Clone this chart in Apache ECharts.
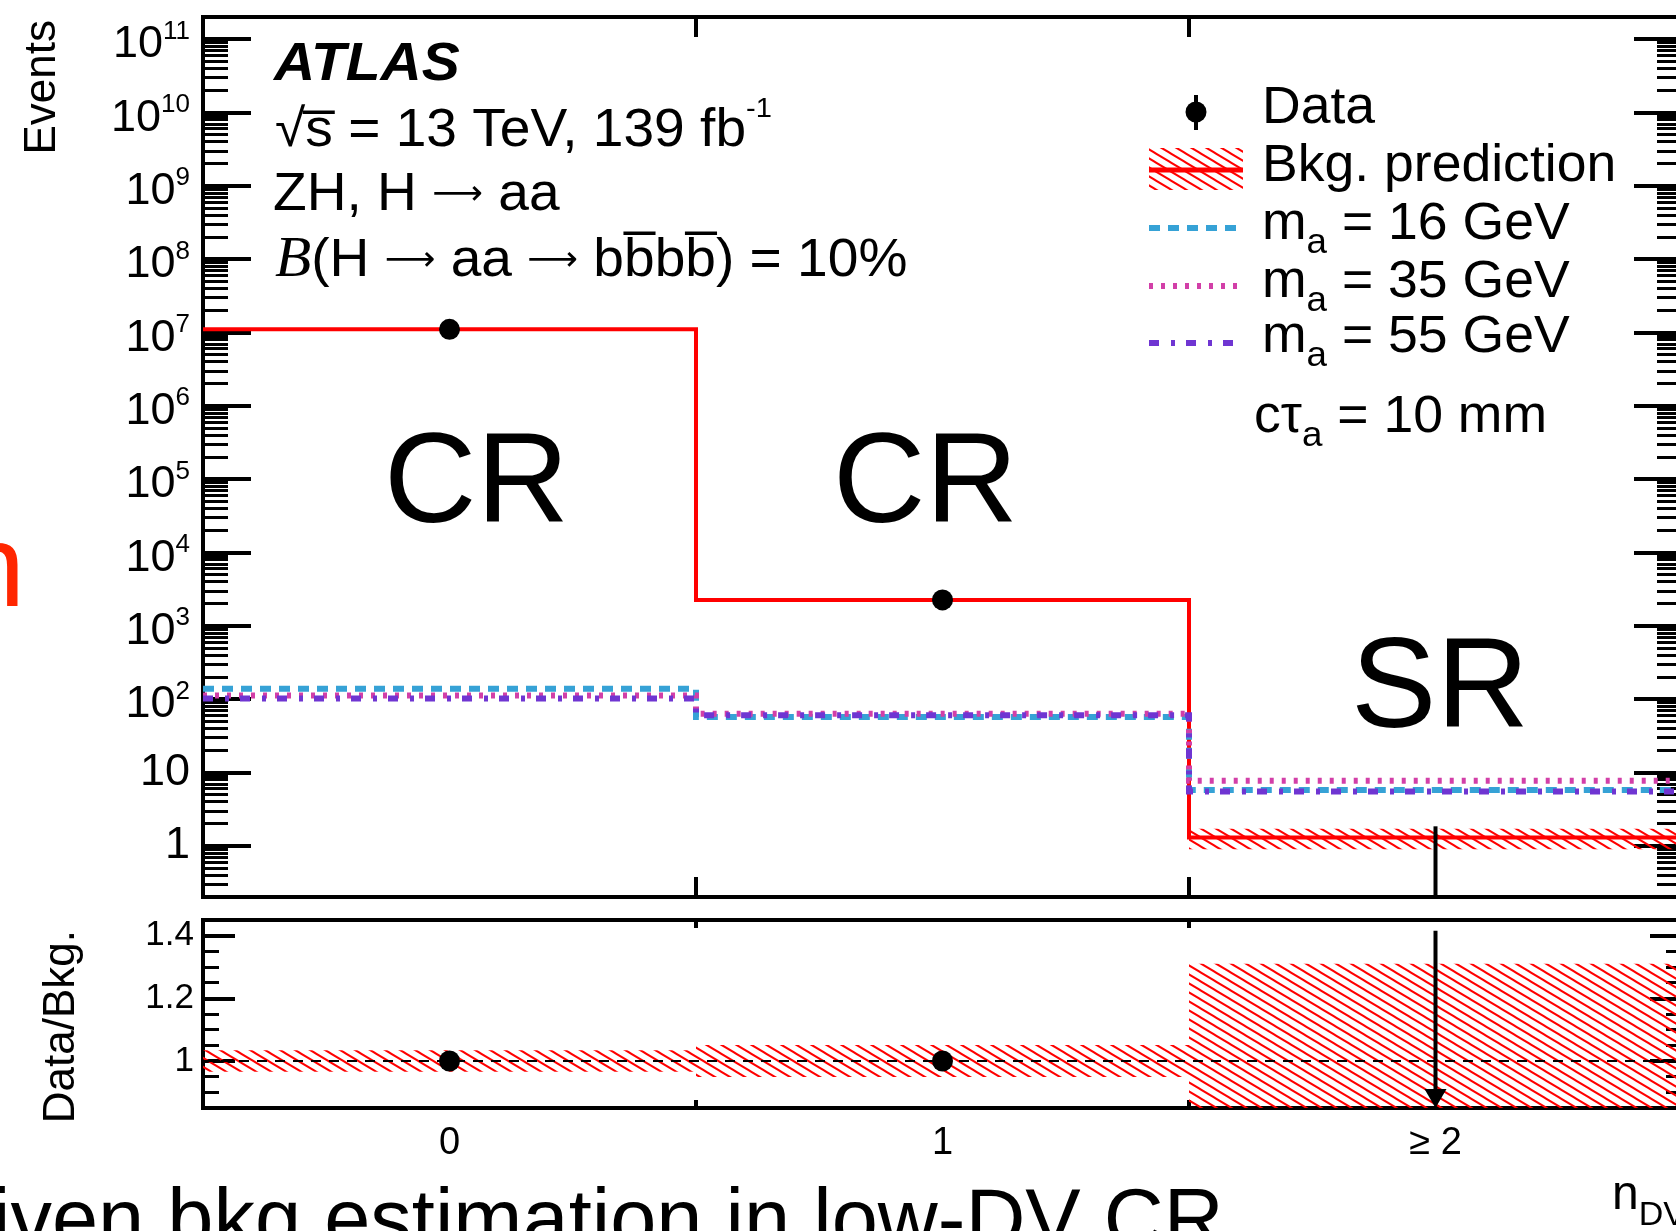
<!DOCTYPE html>
<html>
<head>
<meta charset="utf-8">
<title>n_DV control / signal regions</title>
<script src="https://cdn.jsdelivr.net/npm/echarts@6/dist/echarts.min.js"></script>
<style>
  html, body { margin: 0; padding: 0; background: #fff; overflow: hidden; }
  #chart { width: 1690px; height: 1231px; }
</style>
</head>
<body>
<div id="chart"></div>
<script>
// n_DV bins
const binCenters = [0, 1, 2];
const binEdges = [-0.5, 0.5, 1.5, 2.5];
const binLabels = ['0', '1', '≥ 2'];

// observed data (SR blinded -> 0, Poisson upper error 1.84)
const dataCounts = [1.1e7, 2.25e3, 0];
const dataErrUp = [3317, 47, 1.84];
const dataErrDown = [3317, 47, 0];

// background prediction and its relative uncertainty
const bkgPred = [1.1e7, 2.25e3, 1.3];
const bkgRelUnc = [0.034, 0.051, 0.31];

// signal, c tau = 10 mm
const sigM16 = [138, 57, 5.75];
const sigM35 = [112, 63, 7.7];
const sigM55 = [102, 60, 5.5];

// axis ticks
const yDecades = [0, 1, 2, 3, 4, 5, 6, 7, 8, 9, 10, 11];
const ratioMajorTicks = [1.0, 1.2, 1.4];
const ratioMinorTicks = [0.9, 0.95, 1.05, 1.1, 1.15, 1.25, 1.3, 1.35];

const FONT = "'Liberation Sans', Arial, Helvetica, sans-serif";
const ARROW_FONT = "'DejaVu Sans', sans-serif";
const RED = '#ff0000';
const BLUE = '#36a2d6';
const MAGENTA = '#d23fa8';
const PURPLE = '#6f35d2';

const lg = v => Math.log10(v);
const yLogMin = lg(0.2);
const yLogMax = lg(2e11);
const rMin = 0.85;
const rMax = 1.45;

const yMinorTicks = [];
for (let n = -1; n <= 11; n++) {
  for (let k = 2; k <= 9; k++) {
    const v = lg(k) + n;
    if (v > yLogMin + 1e-9 && v < yLogMax - 1e-9) yMinorTicks.push(v);
  }
}

// red hatch (ROOT style "\\\\")
function makeHatch() {
  const w = 15, h = 9;
  const c = document.createElement('canvas');
  c.width = w; c.height = h;
  const ctx = c.getContext('2d');
  ctx.strokeStyle = RED;
  ctx.lineWidth = 2;
  [-w, 0, w].forEach(dx => {
    ctx.beginPath();
    ctx.moveTo(dx - w, -h);
    ctx.lineTo(dx + 2 * w, 2 * h);
    ctx.stroke();
  });
  return c;
}
const hatchFill = { image: makeHatch(), repeat: 'repeat' };

function stepData(vals) {
  return binEdges.map((e, i) => [e, lg(vals[Math.min(i, vals.length - 1)])]);
}

function bandItem(params, api) {
  const p0 = api.coord([api.value(0), api.value(3)]);
  const p1 = api.coord([api.value(1), api.value(2)]);
  return {
    type: 'rect',
    shape: { x: p0[0], y: p0[1], width: p1[0] - p0[0], height: p1[1] - p0[1] },
    style: { fill: hatchFill, stroke: null }
  };
}

function errItem(params, api) {
  const lo = api.coord([api.value(0), api.value(1)]);
  const hi = api.coord([api.value(0), api.value(2)]);
  return {
    type: 'line',
    shape: { x1: lo[0], y1: lo[1], x2: hi[0], y2: hi[1] },
    style: { stroke: '#000', lineWidth: 4 }
  };
}

function arrowItem(params, api) {
  const bot = api.coord([api.value(0), api.value(1)]);
  const top = api.coord([api.value(0), api.value(2)]);
  return {
    type: 'group',
    children: [
      { type: 'line', shape: { x1: top[0], y1: top[1], x2: bot[0], y2: bot[1] - 16 },
        style: { stroke: '#000', lineWidth: 4 } },
      { type: 'polygon', shape: { points: [[bot[0] - 11, bot[1] - 19], [bot[0] + 11, bot[1] - 19], [bot[0], bot[1]]] },
        style: { fill: '#000' } }
    ]
  };
}

// upper panel
const bkgBand = bkgPred.map((b, i) => [binEdges[i], binEdges[i + 1],
  Math.max(yLogMin, lg(b * (1 - bkgRelUnc[i]))), lg(b * (1 + bkgRelUnc[i]))]);
const dataPts = [];
const dataErr = [];
dataCounts.forEach((d, i) => {
  if (d > 0) dataPts.push([binCenters[i], lg(d)]);
  const lo = d - dataErrDown[i] > 0 ? lg(d - dataErrDown[i]) : yLogMin;
  dataErr.push([binCenters[i], lo, lg(d + dataErrUp[i])]);
});

// ratio panel
const ratioBand = bkgRelUnc.map((u, i) => [binEdges[i], binEdges[i + 1],
  Math.max(rMin, 1 - u), Math.min(rMax, 1 + u)]);
const ratioPts = [];
const ratioErr = [];
const ratioArrows = [];
dataCounts.forEach((d, i) => {
  const r = d / bkgPred[i];
  const up = (d + dataErrUp[i]) / bkgPred[i];
  const dn = (d - dataErrDown[i]) / bkgPred[i];
  if (r >= rMin) {
    ratioPts.push([binCenters[i], r]);
    ratioErr.push([binCenters[i], dn, up]);
  } else {
    ratioArrows.push([binCenters[i], rMin, Math.min(up, rMax)]);
  }
});

const tickStyle = w => ({ color: '#000', width: w });
const noLine = { show: false, onZero: false };

function yAxisPair(grid, min, max, majors, minors, majLen, minLen, label) {
  const out = [];
  ['left', 'right'].forEach(pos => {
    out.push({
      type: 'value', gridIndex: grid, position: pos, min, max,
      axisLine: noLine, splitLine: { show: false },
      axisTick: { show: true, inside: true, length: majLen, customValues: majors, lineStyle: tickStyle(4) },
      axisLabel: pos === 'left' && label ? label : { show: false }
    });
    out.push({
      type: 'value', gridIndex: grid, position: pos, min, max,
      axisLine: noLine, splitLine: { show: false },
      axisTick: { show: true, inside: true, length: minLen, customValues: minors, lineStyle: tickStyle(3) },
      axisLabel: { show: false }
    });
  });
  return out;
}

function xAxisPair(grid, len, label) {
  return ['bottom', 'top'].map(pos => ({
    type: 'value', gridIndex: grid, position: pos, min: binEdges[0], max: binEdges[binEdges.length - 1],
    axisLine: noLine, splitLine: { show: false },
    axisTick: { show: true, inside: true, length: len, customValues: binEdges.slice(1, -1), lineStyle: tickStyle(4) },
    axisLabel: pos === 'bottom' && label ? label : { show: false }
  }));
}

const yLabelUpper = {
  show: true, customValues: yDecades, margin: 13, color: '#000', fontSize: 45, fontFamily: FONT,
  formatter: v => v === 0 ? '{m|1}' : v === 1 ? '{m|10}' : '{p|10}{s|' + v + '}',
  rich: {
    m: { fontSize: 45, lineHeight: 45, fontFamily: FONT, color: '#000' },
    p: { fontSize: 45, lineHeight: 45, fontFamily: FONT, color: '#000', padding: [12, 0, 0, 0] },
    s: { fontSize: 26, height: 30, verticalAlign: 'top', fontFamily: FONT, color: '#000' }
  }
};
const yLabelRatio = {
  show: true, customValues: ratioMajorTicks, margin: 9, color: '#000', fontSize: 35, fontFamily: FONT,
  formatter: v => Math.abs(v - 1) < 1e-9 ? '1' : v.toFixed(1)
};
const xLabelRatio = {
  show: true, customValues: binCenters, margin: 17, color: '#000', fontSize: 38, fontFamily: FONT,
  formatter: v => binLabels[binCenters.indexOf(v)]
};

const richLegend = {
  t: { fontSize: 51, lineHeight: 51, fontFamily: FONT, fill: '#000' },
  s: { fontSize: 35, height: 14, verticalAlign: 'bottom', fontFamily: FONT, fill: '#000' }
};
const richInfo = {
  t: { fontSize: 53, lineHeight: 53, fontFamily: FONT, fill: '#000' },
  a: { fontSize: 34, lineHeight: 53, fontFamily: ARROW_FONT, fill: '#000' },
  s: { fontSize: 28, height: 9, verticalAlign: 'top', fontFamily: FONT, fill: '#000' },
  B: { fontSize: 57, lineHeight: 53, fontFamily: "'Liberation Serif', 'Times New Roman', serif", fontStyle: 'italic', fill: '#000' }
};

function txt(x, y, text, size, extra, sx) {
  return {
    type: 'text', x, y, silent: true, scaleX: sx || 1,
    style: Object.assign({ text, fill: '#000', fontSize: size, fontFamily: FONT, align: 'left', verticalAlign: 'middle' }, extra || {})
  };
}
function seg(x1, y1, x2, y2, stroke, w, dash) {
  return { type: 'line', silent: true, shape: { x1, y1, x2, y2 },
    style: { stroke, lineWidth: w, lineDash: dash || null } };
}

const ARR = '{a|⟶}';
const graphics = [
  // axis titles (rotated)
  Object.assign(txt(43, 20, 'Events', 44, { align: 'right' }), { rotation: Math.PI / 2 }),
  Object.assign(txt(62, 930, 'Data/Bkg.', 44, { align: 'right' }), { rotation: Math.PI / 2 }),
  // page fragments around the figure
  txt(-40, 574, 'n', 117, { fill: '#ff2600' }),
  txt(-8, 1224, 'iven bkg estimation in low-DV CR', 83),
  txt(1612, 1196, '{t|n}{s|DV}', 48, { rich: {
    t: { fontSize: 48, lineHeight: 48, fontFamily: FONT, fill: '#000' },
    s: { fontSize: 34, height: 8, verticalAlign: 'bottom', fontFamily: FONT, fill: '#000' } } }),
  // ATLAS label block
  txt(274, 65, 'ATLAS', 54, { fontWeight: 'bold', fontStyle: 'italic' }, 1.055),
  txt(275, 131, '{t|√s\u0305 = 13 TeV, 139 fb}{s|-1}', 53, { rich: richInfo }, 1.04),
  txt(273, 195, '{t|ZH, H }' + ARR + '{t| aa}', 53, { rich: richInfo }, 1.04),
  txt(275, 261, '{B|B}{t|(H }' + ARR + '{t| aa }' + ARR + '{t| bb\u0305bb\u0305) = 10%}', 53, { rich: richInfo }, 1.04),
  // region labels
  txt(384, 487, 'CR', 128),
  txt(833, 487, 'CR', 128),
  txt(1351, 692, 'SR', 128),
  // legend
  { type: 'circle', silent: true, shape: { cx: 1196, cy: 112, r: 10.5 }, style: { fill: '#000' } },
  seg(1196, 95, 1196, 130, '#000', 4),
  { type: 'rect', silent: true, shape: { x: 1149, y: 148, width: 94, height: 42 }, style: { fill: hatchFill } },
  seg(1149, 170, 1243, 170, RED, 5),
  seg(1149, 228, 1237, 228, BLUE, 6, [11, 8]),
  seg(1149, 286, 1237, 286, MAGENTA, 6, [4, 8]),
  seg(1149, 343, 1237, 343, PURPLE, 6, [10, 12, 4, 11]),
  txt(1262, 109, 'Data', 51, null, 1.05),
  txt(1262, 167, 'Bkg. prediction', 51, null, 1.05),
  txt(1262, 225, '{t|m}{s|a}{t| = 16 GeV}', 51, { rich: richLegend }, 1.05),
  txt(1262, 283, '{t|m}{s|a}{t| = 35 GeV}', 51, { rich: richLegend }, 1.05),
  txt(1262, 338, '{t|m}{s|a}{t| = 55 GeV}', 51, { rich: richLegend }, 1.05),
  txt(1254, 418, '{t|cτ}{s|a}{t| = 10 mm}', 51, { rich: richLegend }, 1.05)
];

function sigLine(name, vals, color, dash) {
  return {
    type: 'line', name, xAxisIndex: 0, yAxisIndex: 0, step: 'end', data: stepData(vals),
    symbol: 'none', lineStyle: { color, width: 6, type: dash, cap: 'butt', join: 'miter' }, z: 4
  };
}

const option = {
  animation: false,
  backgroundColor: '#fff',
  grid: [
    { left: 203, top: 17, width: 1479, height: 880, show: true, borderColor: '#000', borderWidth: 4, backgroundColor: 'transparent' },
    { left: 203, top: 920, width: 1479, height: 188, show: true, borderColor: '#000', borderWidth: 4, backgroundColor: 'transparent' }
  ],
  xAxis: [...xAxisPair(0, 20, null), ...xAxisPair(1, 8, xLabelRatio)],
  yAxis: [
    ...yAxisPair(0, yLogMin, yLogMax, yDecades, yMinorTicks, 48, 25, yLabelUpper),
    ...yAxisPair(1, rMin, rMax, ratioMajorTicks, ratioMinorTicks, 32, 16, yLabelRatio)
  ],
  series: [
    { type: 'custom', name: 'bkgBand', xAxisIndex: 0, yAxisIndex: 0, renderItem: bandItem, data: bkgBand, silent: true, z: 2 },
    { type: 'line', name: 'Bkg. prediction', xAxisIndex: 0, yAxisIndex: 0, step: 'end', data: stepData(bkgPred),
      symbol: 'none', lineStyle: { color: RED, width: 4, join: 'miter' }, z: 3 },
    sigLine('m16', sigM16, BLUE, [11, 8]),
    sigLine('m35', sigM35, MAGENTA, [4, 8]),
    sigLine('m55', sigM55, PURPLE, [10, 12, 4, 11]),
    { type: 'custom', name: 'dataErr', xAxisIndex: 0, yAxisIndex: 0, renderItem: errItem, data: dataErr, silent: true, z: 5 },
    { type: 'scatter', name: 'Data', xAxisIndex: 0, yAxisIndex: 0, data: dataPts, symbolSize: 21,
      itemStyle: { color: '#000', opacity: 1 }, z: 6 },
    // ratio panel (x axes 2/3, y axes 4..7)
    { type: 'custom', name: 'ratioBand', xAxisIndex: 2, yAxisIndex: 4, renderItem: bandItem, data: ratioBand, silent: true, z: 2 },
    { type: 'line', name: 'unity', xAxisIndex: 2, yAxisIndex: 4, data: [[binEdges[0], 1], [binEdges[3], 1]],
      symbol: 'none', lineStyle: { color: '#000', width: 2, type: [10, 8] }, z: 3 },
    { type: 'custom', name: 'ratioErr', xAxisIndex: 2, yAxisIndex: 4, renderItem: errItem, data: ratioErr, silent: true, z: 5 },
    { type: 'custom', name: 'ratioArrow', xAxisIndex: 2, yAxisIndex: 4, renderItem: arrowItem, data: ratioArrows, silent: true, z: 5 },
    { type: 'scatter', name: 'ratio', xAxisIndex: 2, yAxisIndex: 4, data: ratioPts, symbolSize: 21,
      itemStyle: { color: '#000', opacity: 1 }, z: 6 }
  ],
  graphic: graphics
};

const chart = echarts.init(document.getElementById('chart'));
chart.setOption(option);
window.addEventListener('resize', () => chart.resize());
</script>
</body>
</html>
